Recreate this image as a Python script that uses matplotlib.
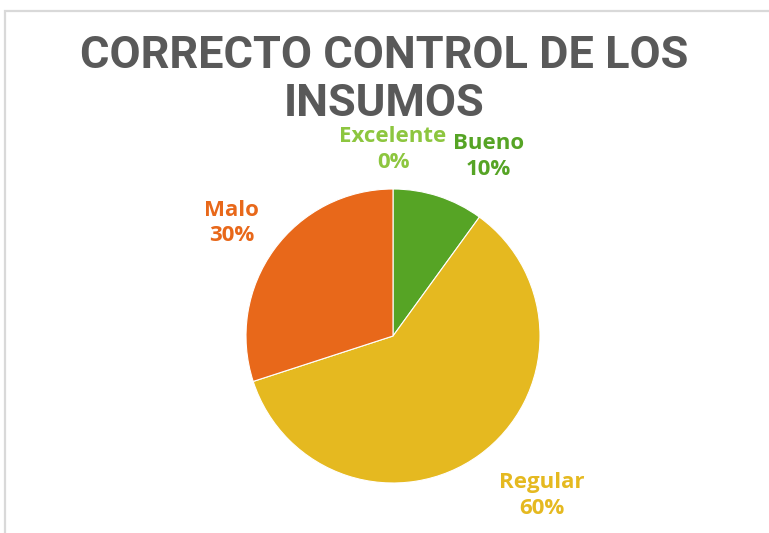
import numpy as np
import matplotlib.pyplot as plt
from matplotlib.patches import Rectangle

# datos del gráfico
categorias = ["Excelente", "Bueno", "Regular", "Malo"]
porcentajes = [0, 10, 60, 30]
colores = ["#8DC63F", "#56A425", "#E5B920", "#E8681A"]

# posiciones de las etiquetas (angulo en grados, distancia en radios)
pos_etiquetas = [(90, 1.27), (62, 1.38), (-47, 1.48), (145, 1.34)]

fig = plt.figure(figsize=(7.69, 5.33), dpi=100)
fig.patch.set_facecolor("white")

# marco gris del area del grafico
fig.patches.append(Rectangle((5 / 769, -0.1), 1.2, 1 - 11 / 533 + 0.1,
                             transform=fig.transFigure, fill=False,
                             edgecolor="#D9D9D9", linewidth=1.6))

ax = fig.add_axes([(393 - 147) / 769, (533 - 336 - 147) / 533, 294 / 769, 294 / 533])
ax.pie(porcentajes, colors=colores, startangle=90, counterclock=False,
       wedgeprops=dict(edgecolor="white", linewidth=0.8))
ax.set_xlim(-1, 1)
ax.set_ylim(-1, 1)
ax.set_aspect("equal")
ax.axis("off")

for cat, val, col, (ang, dist) in zip(categorias, porcentajes, colores, pos_etiquetas):
    x = dist * np.cos(np.radians(ang))
    y = dist * np.sin(np.radians(ang))
    ax.text(x, y, f"{cat}\n{val}%", ha="center", va="center", color=col,
            fontsize=16, fontweight="bold", family="Open Sans",
            linespacing=1.3, clip_on=False)

fig.text(0.5, 1 - 56 / 533, "CORRECTO CONTROL DE LOS", ha="center", va="center",
         fontsize=32.5, fontweight="bold", color="#595959", family="Roboto")
fig.text(0.5, 1 - 104 / 533, "INSUMOS", ha="center", va="center",
         fontsize=32.5, fontweight="bold", color="#595959", family="Roboto")

fig.savefig("out.png", dpi=100)
